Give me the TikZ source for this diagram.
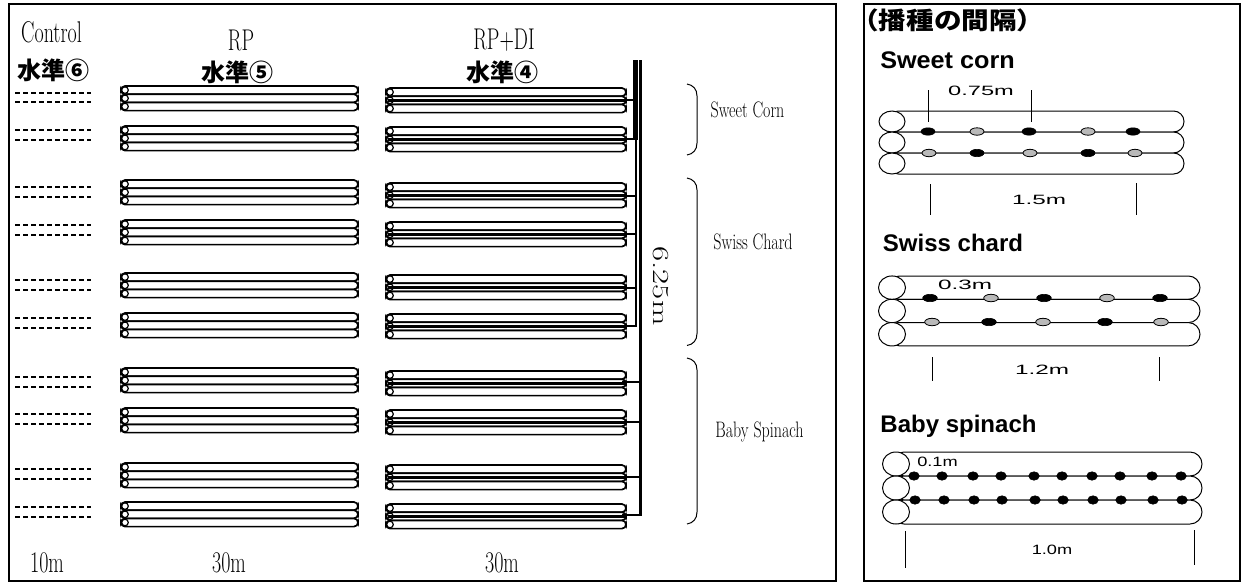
\documentclass[tikz,border=0pt]{standalone}
\usepackage{graphicx}
\usepackage{fontspec}
\setmainfont{Liberation Sans}
\newfontfamily\cjkb{Noto Sans CJK JP}
\newfontfamily\serifd{Latin Modern Roman}
\tikzset{
  x=1pt,y=-1pt,
  frame/.style={draw=black,line width=1.6pt,fill=white},
  pipe/.style={draw=black,line width=1.7pt,fill=white,rounded corners=4.1pt},
  tall/.style={font=\serifd\fontsize{20}{20}\selectfont,inner sep=0pt},
  cropname/.style={font=\serifd\fontsize{16}{16}\selectfont,inner sep=0pt},
  ttl/.style={font=\cjkb\bfseries\fontsize{24}{24}\selectfont,inner sep=0pt},
  crop/.style={font=\bfseries\fontsize{24}{24}\selectfont,inner sep=0pt},
  dim/.style={font=\fontsize{13.5}{13.5}\selectfont,inner sep=0pt},
  ctl/.style={draw=black,line width=1.3pt,dash pattern=on 4.8pt off 3.2pt},
  seedk/.style={draw=black,fill=black,line width=.6pt},
  seedg/.style={draw=black,fill=gray!55,line width=.8pt},
  tick/.style={draw=black,line width=1pt},
  bigpipe/.style={draw=black,line width=1pt,fill=white}
}
\newcommand{\tallt}[2][1.5]{\scalebox{1}[#1]{#2}}
\newcommand{\wid}[2]{\scalebox{#1}[1]{#2}}
\newcommand{\capsules}[3]{% x0, x1, ytop
  \foreach \k in {0,1,2}{
    \pgfmathsetmacro{\yy}{#3+\k*8.2}
    \draw[pipe] (#1,\yy) rectangle (#2,\yy+8.2);
  }
  \foreach \k in {0,1,2}{
    \pgfmathsetmacro{\yy}{#3+\k*8.2}
    \draw[draw=black,line width=1.2pt,fill=white] (#1+4,\yy+4.1) circle[radius=3.3];
  }
}
\newcommand{\bigcaps}[6]{% cx,x1,ytop,h,rx,ry
  \foreach \k in {0,1,2}{
    \pgfmathsetmacro{\yy}{#3+\k*#4}
    \draw[bigpipe,rounded corners=#4/2*1pt] (#1-4,\yy) rectangle (#2,\yy+#4);
  }
  \foreach \k in {0,1,2}{
    \pgfmathsetmacro{\yy}{#3+\k*#4}
    \draw[bigpipe] (#1,\yy+#4/2) ellipse (#5 and #6);
  }
}
\begin{document}
\begin{tikzpicture}
\useasboundingbox (0,0) rectangle (1241,582);
\fill[white] (0,0) rectangle (1241,582);
\draw[frame] (9,4) rectangle (836,581);
\draw[frame] (864,4) rectangle (1240,581);
% titles
\node[tall] (tc) at (51.5,32) {\tallt{Control}};
\node[tall] (trp) at (241,40) {\tallt{RP}};
\node[tall] (tdi) at (504,40) {\tallt{RP+DI}};
\node[ttl] (l6) at (53,70) {水準⑥};
\node[ttl] (l5) at (237,72) {水準⑤};
\node[ttl] (l4) at (502.5,72) {水準④};
\node[tall] (b1) at (47,563) {\tallt{10m}};
\node[tall] (b2) at (229,563) {\tallt{30m}};
\node[tall] (b3) at (502,563) {\tallt{30m}};
% rows
\foreach \y in {86,126,180,220,273,313,368,408,463,502}{
  \capsules{121}{358}{\y}
}
\foreach \a/\b in {93/102,130/140,187/197,225/235,280/290,318/328,377/387,414/424,469/479,507/517}{
  \draw[ctl] (15,\a) -- (91,\a);
  \draw[ctl] (15,\b) -- (91,\b);
}
\foreach \y in {88,127,183,222,275,314,371,410,465,504}{
  \capsules{386}{626}{\y}
  \draw[draw=black,line width=3.6pt] (388,\y+12.3) -- (626,\y+12.3);
}
% mains
\draw[line width=4.5pt] (635.5,60) -- (635.5,140);
\draw[line width=2.6pt,line join=miter] (636,139) -- (636,326) -- (622,326);
\draw[line width=2.4pt,line join=miter] (640.5,60) -- (640.5,515) -- (622,515);
\foreach \y in {100,139,196,234,288}{\draw[line width=2.6pt] (622,\y) -- (636,\y);}
\foreach \y in {382,422,477}{\draw[line width=2.6pt] (622,\y) -- (640,\y);}
\node[font=\serifd\fontsize{23}{23}\selectfont,rotate=-90,inner sep=0pt] (len) at (660.5,286) {\wid{1.43}{6.25m}};
% braces
\foreach \a/\b in {84/155,178/345.5,358/524}{
  \draw[black,line width=1pt] (687,\a) .. controls (693,\a+1) and (697,\a+5) .. (697,\a+12) -- (697,\b-12) .. controls (697,\b-5) and (693,\b-1) .. (687,\b);
}
\node[cropname] (c1) at (747.5,110) {\tallt[1.4]{Sweet Corn}};
\node[cropname] (c2) at (753,242) {\tallt[1.4]{Swiss Chard}};
\node[cropname] (c3) at (759.5,432) {\tallt[1.4]{Baby Spinach}};
% right
\node[font=\cjkb\bfseries\fontsize{24}{24}\selectfont,inner sep=0pt,anchor=west] (hd) at (851,20) {\wid{1.15}{（播種の間隔）}};
\node[crop] (s1) at (947.5,60) {\wid{1.05}{Sweet corn}};
\node[crop] (s2) at (953,243) {Swiss chard};
\node[crop] (s3) at (958.5,426) {Baby spinach};
% sweet corn
\bigcaps{892}{1184}{111}{21}{13}{10.5}
\foreach \x in {928,1029,1133}{\draw[seedk] (\x,131.5) ellipse (7 and 3.7);}
\foreach \x in {977,1088}{\draw[seedg] (\x,131.5) ellipse (7 and 3.7);}
\foreach \x in {977,1088}{\draw[seedk] (\x,153) ellipse (7 and 3.7);}
\foreach \x in {929,1030,1135}{\draw[seedg] (\x,153) ellipse (7 and 3.7);}
\draw[tick] (928,90) -- (928,122);
\draw[tick] (1031,90) -- (1031,122);
\node[dim] (d1) at (981,91) {\wid{1.75}{0.75m}};
\draw[tick] (930,184) -- (930,215);
\draw[tick] (1136,183) -- (1136,215);
\node[dim] (d2) at (1039,200) {\wid{1.8}{1.5m}};
% swiss
\bigcaps{892}{1200}{276}{23.3}{13.5}{11.7}
\foreach \x in {930,1044,1160}{\draw[seedk] (\x,298) ellipse (7.3 and 3.7);}
\foreach \x in {991,1107}{\draw[seedg] (\x,298) ellipse (7.3 and 3.7);}
\foreach \x in {989,1105}{\draw[seedk] (\x,322) ellipse (7.3 and 3.7);}
\foreach \x in {932,1043,1161}{\draw[seedg] (\x,322) ellipse (7.3 and 3.7);}
\node[dim] (d3) at (965,285) {\wid{1.8}{0.3m}};
\draw[tick] (932,357) -- (932,381);
\draw[tick] (1159,357) -- (1159,381);
\node[dim] (d4) at (1042,370) {\wid{1.8}{1.2m}};
% baby
\bigcaps{896}{1202}{452}{24}{13.5}{12}
\foreach \x in {914,942,973,1001,1034,1062,1092,1120,1152,1181}{\draw[seedk] (\x,476) ellipse (5.3 and 4.2);}
\foreach \x in {915,944,974,1002,1035,1063,1093,1121,1153,1182}{\draw[seedk] (\x,500) ellipse (5.3 and 4.2);}
\node[dim] (d5) at (937.5,462) {\wid{1.35}{0.1m}};
\draw[tick] (905,531) -- (905,568);
\draw[tick] (1194,530) -- (1194,565);
\node[dim] (d6) at (1052,550) {\wid{1.35}{1.0m}};
\end{tikzpicture}
\end{document}
